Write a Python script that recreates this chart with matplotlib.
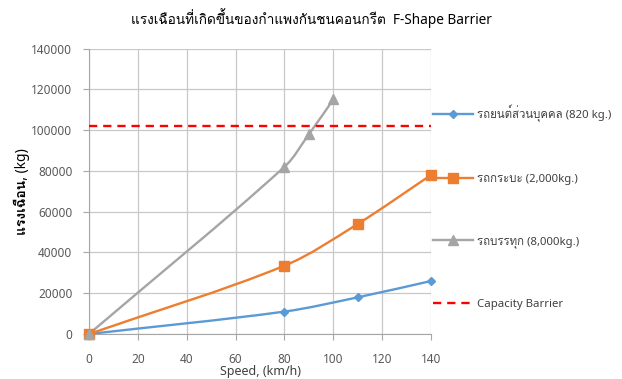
import numpy as np
from matplotlib import font_manager
from matplotlib import pyplot as plt
from matplotlib.lines import Line2D
from matplotlib.path import Path
from matplotlib.patches import PathPatch
from fontTools.ttLib import TTFont

TITLE = "แรงเฉือนที่เกิดขึ้นของกำแพงกันชนคอนกรีต  F-Shape Barrier"
XLABEL = "Speed, (km/h)"
YLABEL = "แรงเฉือน, (kg)"

# vehicle series: speed (km/h) vs shear force (kg)
car_speed = [0, 80, 110, 140]
car_force = [0, 11000, 18000, 26000]
pickup_speed = [0, 80, 110, 140]
pickup_force = [0, 33500, 54000, 78000]
truck_speed = [0, 80, 90, 100]
truck_force = [0, 82000, 98000, 115000]
capacity_speed = [0, 140]
capacity_force = [102000, 102000]

labels = [
    "รถยนต์ส่วนบุคคล (820 kg.)",
    "รถกระบะ (2,000kg.)",
    "รถบรรทุก (8,000kg.)",
    "Capacity Barrier",
]
colors = ["#5B9BD5", "#ED7D31", "#A5A5A5", "#FF0000"]
markers = ["D", "s", "^"]
msizes = [4.5, 7, 6.5]

XMAX, YMAX = 140, 140000


def thai_family():
    """First installed family that has Thai glyphs."""
    seen = set()
    for f in font_manager.fontManager.ttflist:
        if f.fname in seen:
            continue
        seen.add(f.fname)
        try:
            cmap = TTFont(f.fname, fontNumber=0, lazy=True).getBestCmap()
        except Exception:
            continue
        if cmap and 0x0E23 in cmap:
            return f.name
    return None


thai = thai_family()
plt.rcParams["font.family"] = ["Noto Sans"] + ([thai] if thai else []) + ["DejaVu Sans"]


def smooth_path(xs, ys, sx, sy):
    """Cubic Bezier through the points ("smoothed line"), tangents taken
    in roughly screen-proportional units so short segments don't kink."""
    pts = np.column_stack([np.asarray(xs) * sx, np.asarray(ys) * sy]).astype(float)
    n = len(pts)
    tang = []
    for i in range(n):
        d = pts[min(i + 1, n - 1)] - pts[max(i - 1, 0)]
        tang.append(d / np.hypot(*d))
    verts = [pts[0]]
    codes = [Path.MOVETO]
    for i in range(n - 1):
        seg = np.hypot(*(pts[i + 1] - pts[i])) / 3
        verts += [pts[i] + tang[i] * seg, pts[i + 1] - tang[i + 1] * seg, pts[i + 1]]
        codes += [Path.CURVE4] * 3
    verts = np.array(verts) / [sx, sy]
    return Path(verts, codes)


fig = plt.figure(figsize=(6.22, 3.79), dpi=100)
ax = fig.add_axes([0.1431, 0.1187, 0.55, 0.7533])
sx, sy = 342 / XMAX, 285.5 / YMAX

series = [
    (car_speed, car_force),
    (pickup_speed, pickup_force),
    (truck_speed, truck_force),
]
handles = []
for (xs, ys), c, m, ms in zip(series, colors, markers, msizes):
    ax.add_patch(
        PathPatch(
            smooth_path(xs, ys, sx, sy), facecolor="none", edgecolor=c, lw=1.7, zorder=3
        )
    )
    ax.plot(xs, ys, ls="none", marker=m, color=c, ms=ms, zorder=4, clip_on=False)
    handles.append(Line2D([], [], color=c, lw=1.7, marker=m, ms=ms))
(h,) = ax.plot(
    capacity_speed, capacity_force, color=colors[3], lw=1.7, ls=(0, (3.5, 2.5)), zorder=3
)
handles.append(h)

ax.set_xlim(0, XMAX)
ax.set_ylim(0, YMAX)
ax.set_xticks(np.arange(0, XMAX + 1, 20))
ax.set_yticks(np.arange(0, YMAX + 1, 20000))
ax.grid(True, color="#C8C8C8", lw=0.9)
ax.set_axisbelow(True)
for side in ["top", "right"]:
    ax.spines[side].set_visible(False)
for side in ["left", "bottom"]:
    ax.spines[side].set_color("#A6A6A6")
ax.tick_params(colors="#A6A6A6", labelcolor="#595959", labelsize=8.5, length=4)
ax.tick_params(axis="y", pad=8)
ax.tick_params(axis="x", pad=10)

ax.set_xlabel(XLABEL, fontsize=9, labelpad=-1, color="#404040")
ax.set_ylabel(YLABEL, fontsize=10, fontweight="bold")
ax.yaxis.set_label_coords(-0.172, 0.5)
fig.text(0.5, 0.9525, TITLE, ha="center", va="center", fontsize=9.8)

fig.legend(
    handles,
    labels,
    loc="center left",
    bbox_to_anchor=(0.696, 0.4525),
    frameon=False,
    fontsize=8.2,
    handlelength=3.5,
    handletextpad=0.35,
    labelspacing=4.5,
    borderpad=0,
    borderaxespad=0,
    labelcolor="#404040",
)

fig.savefig("out.png", dpi=100)
